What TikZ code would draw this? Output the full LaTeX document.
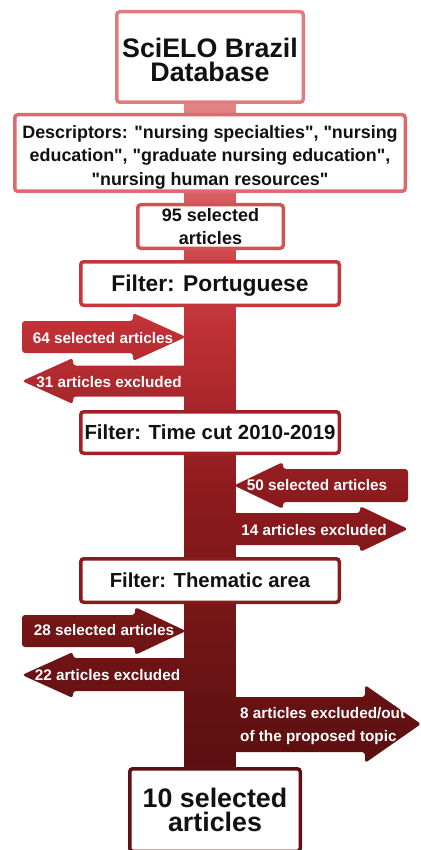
\documentclass[tikz,border=0pt]{standalone}
\usepackage{fontspec}
\setmainfont{Liberation Sans}
\usetikzlibrary{calc,backgrounds}
\definecolor{s0}{HTML}{5A0F10}
\definecolor{s1}{HTML}{721516}
\definecolor{s2}{HTML}{8F1B1E}
\definecolor{s3}{HTML}{BF3035}
\definecolor{s4}{HTML}{D85A5E}
\definecolor{s5}{HTML}{E38587}
\definecolor{bA}{HTML}{E07C80}
\definecolor{bB}{HTML}{DC6A6E}
\definecolor{bC}{HTML}{D05255}
\definecolor{bD}{HTML}{C4383C}
\definecolor{bE}{HTML}{A22026}
\definecolor{bF}{HTML}{8A1A1E}
\definecolor{bG}{HTML}{5E1012}
\definecolor{ink}{HTML}{111111}
\newcommand\dq{\textquotedbl}
\pgfdeclareverticalshading{trunkshade}{100bp}{color(0bp)=(s0); color(25bp)=(s0); color(35.3bp)=(s1); color(46.2bp)=(s2); color(57.8bp)=(s3); color(67.5bp)=(s4); color(75bp)=(s5); color(100bp)=(s5)}
\newcommand\shadeshape[1]{\begin{scope}\clip[rounded corners=3pt] #1; \shade[shading=trunkshade] (0,100) rectangle (420,770);\end{scope}}
\begin{document}
\begin{tikzpicture}[x=1pt,y=-1pt,
  box/.style={draw, line width=3.5pt, rounded corners=3pt, fill=white, inner sep=0pt, outer sep=0pt, align=center, text=ink},
  bigtxt/.style={font=\fontsize{26.8}{23.5}\selectfont\bfseries},
  midtxt/.style={font=\fontsize{17.9}{23.5}\selectfont\bfseries},
  atext/.style={text=white, inner sep=0pt, font=\fontsize{15.3}{23}\selectfont\bfseries}]
\useasboundingbox (0,0) rectangle (420,850);
\clip (0,0) rectangle (420,850);
\node[box, bigtxt, draw=bA, minimum width=186.5pt, minimum height=90.5pt] (scielo) at (210,57) {\rule{0pt}{25.5pt}SciELO Brazil\\Database};
\node[box, midtxt, draw=bB, minimum width=390.5pt, minimum height=76.5pt] (desc) at (210,153) {\rule{0pt}{21pt}Descriptors: \dq nursing specialties\dq, \dq nursing\\education\dq, \dq graduate nursing education\dq,\\\dq nursing human resources\dq};
\node[box, font=\fontsize{18}{23}\selectfont\bfseries, draw=bC, minimum width=145.5pt, minimum height=43.5pt] (n95) at (210.5,226.5) {95 selected\\articles};
\node[box, font=\fontsize{22.8}{26}\selectfont\bfseries, draw=bD, minimum width=258.5pt, minimum height=43.5pt, text height=16.3pt, text depth=0pt] (fport) at (210,283.5) {Filter: Portuguese};
\node[box, font=\fontsize{20.4}{24}\selectfont\bfseries, draw=bE, minimum width=258.5pt, minimum height=41.5pt, text height=14.6pt, text depth=0pt] (ftime) at (210,432.5) {Filter: Time cut 2010-2019};
\node[box, font=\fontsize{20.3}{24}\selectfont\bfseries, draw=bF, minimum width=258.5pt, minimum height=43.5pt, text height=14.5pt, text depth=0pt] (ftheme) at (210,580.5) {Filter: Thematic area};
\node[box, bigtxt, draw=bG, minimum width=170.5pt, minimum height=82.5pt] (final) at (215,810) {10 selected\\articles};
\begin{pgfonlayer}{background}
\shadeshape{($(scielo.south)+(-26,-5)$) rectangle ($(scielo.south|-final.north)+(26,5)$)}
\shadeshape{(22,321) -- (133,321) -- (133,313) -- (186,337) -- (133,361) -- (133,353) -- (22,353) -- cycle}
\shadeshape{(200,365.5) -- (73,365.5) -- (73,358) -- (22,381) -- (73,404) -- (73,396.5) -- (200,396.5) -- cycle}
\shadeshape{(408,469) -- (283,469) -- (283,462) -- (234,485.5) -- (283,509) -- (283,502) -- (408,502) -- cycle}
\shadeshape{(220,513) -- (360,513) -- (360,506) -- (408,529) -- (360,552) -- (360,545) -- (220,545) -- cycle}
\shadeshape{(22,615) -- (135,615) -- (135,607) -- (186,631) -- (135,655) -- (135,647) -- (22,647) -- cycle}
\shadeshape{(200,658) -- (73,658) -- (73,652) -- (22,675) -- (73,698) -- (73,691) -- (200,691) -- cycle}
\shadeshape{(220,697) -- (365,697) -- (365,685) -- (421,724) -- (365,763) -- (365,752) -- (220,752) -- cycle}
\end{pgfonlayer}
\node[atext, anchor=base] (t64) at (103,343) {64 selected articles};
\node[atext, anchor=base] (t31) at (109,387) {31 articles excluded};
\node[atext, anchor=base] (t50) at (317,490.5) {50 selected articles};
\node[atext, anchor=base] (t14) at (314,535) {14 articles excluded};
\node[atext, anchor=base] (t28) at (104,635) {28 selected articles};
\node[atext, anchor=base] (t22) at (107.5,680.5) {22 articles excluded};
\node[atext, anchor=west, align=left] (t8) at (240,726.5) {8 articles excluded/out\\of the proposed topic};
\end{tikzpicture}
\end{document}
